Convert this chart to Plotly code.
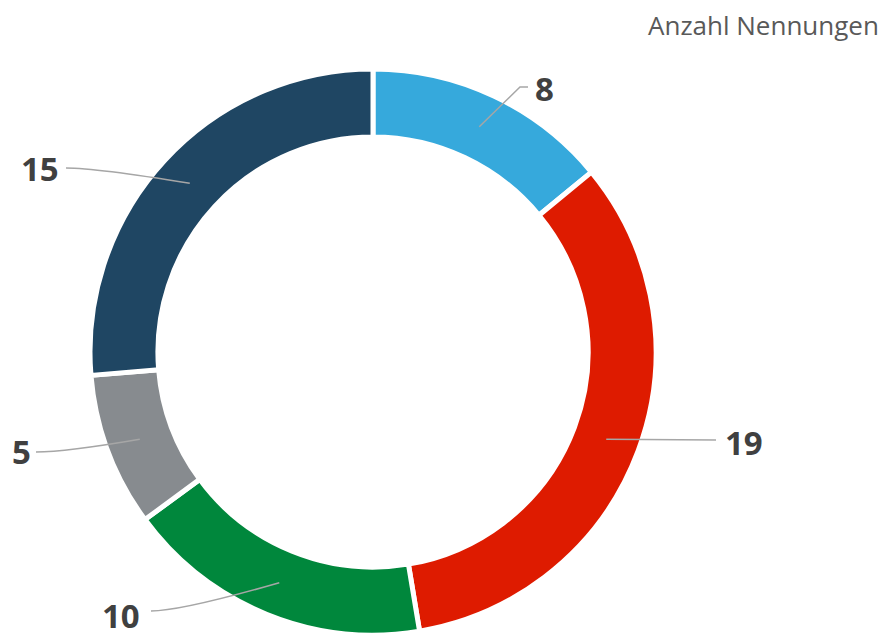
import math
import plotly.graph_objects as go

# ---- data ----
categories = ["A", "B", "C", "D", "E"]
values = [8, 19, 10, 5, 15]
colors = ["#36A9DC", "#DE1B00", "#00873C", "#878B8F", "#1F4663"]
title_text = "Anzahl Nennungen"

# ---- layout constants (page pixels) ----
W, H = 886, 634
OFF = 8                     # default page body margin
CX, CY = 373, 352           # donut centre
R_OUT = 283
HOLE = 0.76
R_MID = R_OUT * (1 + HOLE) / 2

# label text centres and connector end points (layout only)
label_pos = [(544, 88), (744, 442), (121, 615), (21, 451), (40, 168)]
conn_end = [(528, 87), (716, 440), (151, 611), (36, 452), (66, 168)]


def px(x):
    return (x - OFF) / W


def py(y):
    return 1 - (y - OFF) / H


fig = go.Figure()
fig.add_trace(go.Pie(
    labels=categories, values=values, sort=False, direction="clockwise",
    rotation=0, hole=HOLE, textinfo="none", hoverinfo="label+value",
    marker=dict(colors=colors, line=dict(color="white", width=5)),
    domain=dict(x=[px(CX - R_OUT), px(CX + R_OUT)],
                y=[py(CY + R_OUT), py(CY - R_OUT)]),
    showlegend=False,
))

total = sum(values)
cum = 0
shapes = []
annotations = []
for i, v in enumerate(values):
    mid = (cum + v / 2) / total * 2 * math.pi
    cum += v
    sx = CX + R_MID * math.sin(mid)
    sy = CY - R_MID * math.cos(mid)
    ex, ey = conn_end[i]
    if i == 0:
        path = (f"M {px(sx)},{py(sy)} L {px(ex - 8)},{py(ey)} L {px(ex)},{py(ey)}")
    else:
        cx_ = ex + (30 if ex < sx else -30)
        path = (f"M {px(sx)},{py(sy)} Q {px(cx_)},{py(ey)} {px(ex)},{py(ey)}")
    shapes.append(dict(type="path", xref="paper", yref="paper", path=path,
                       line=dict(color="#A6A6A6", width=1.5)))
    lx, ly = label_pos[i]
    annotations.append(dict(x=px(lx), y=py(ly), xref="paper", yref="paper",
                            text=f"<b>{v}</b>", showarrow=False,
                            font=dict(family="Open Sans", size=33, color="#404040"),
                            xanchor="center", yanchor="middle"))

annotations.append(dict(x=px(881), y=py(25), xref="paper", yref="paper",
                        text=title_text, showarrow=False,
                        font=dict(family="Open Sans", size=26, color="#595959"),
                        xanchor="right", yanchor="middle"))

fig.update_layout(
    width=W, height=H, margin=dict(l=0, r=0, t=0, b=0),
    paper_bgcolor="white", plot_bgcolor="white",
    shapes=shapes, annotations=annotations,
)

fig.write_html("out.html")
